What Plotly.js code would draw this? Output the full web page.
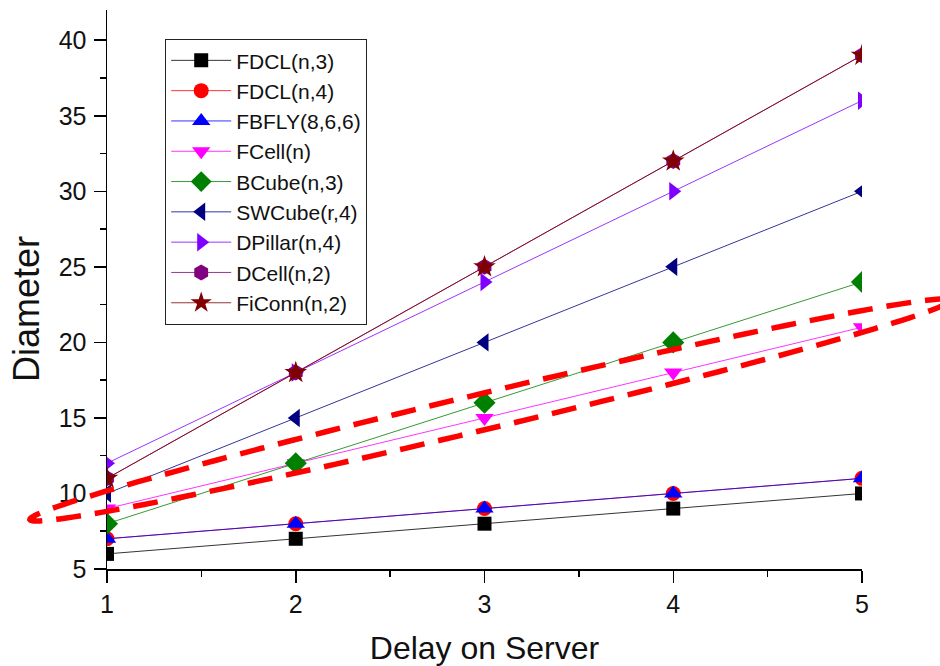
<!DOCTYPE html>
<html>
<head>
<meta charset="utf-8">
<script src="https://cdn.plot.ly/plotly-3.0.1.min.js"></script>
<style>html,body{margin:0;padding:0;background:#fff;}#chart{width:940px;height:666px;}</style>
</head>
<body>
<div id="chart"></div>
<script>
// ---- data ----
const delay = [1, 2, 3, 4, 5];
const fdclN3 = [6, 7, 8, 9, 10];
const fdclN4 = [7, 8, 9, 10, 11];
const fbfly866 = [7, 8, 9, 10, 11];
const fcellN = [9, 12, 15, 18, 21];
const bcubeN3 = [8, 12, 16, 20, 24];
const swcubeR4 = [10, 15, 20, 25, 30];
const dpillarN4 = [12, 18, 24, 30, 36];
const dcellN2 = [11, 18, 25, 32, 39];
const ficonnN2 = [11, 18, 25, 32, 39];
const seriesNames = ["FDCL(n,3)", "FDCL(n,4)", "FBFLY(8,6,6)", "FCell(n)", "BCube(n,3)", "SWCube(r,4)", "DPillar(n,4)", "DCell(n,2)", "FiConn(n,2)"];
const yTickVals = [5, 10, 15, 20, 25, 30, 35, 40];
const xTickVals = [1, 2, 3, 4, 5];
const xTitle = "Delay on Server";
const yTitle = "Diameter";

// ---- styles ----
const seriesData = [fdclN3, fdclN4, fbfly866, fcellN, bcubeN3, swcubeR4, dpillarN4, dcellN2, ficonnN2];
const colors = ["#000000", "#ff0000", "#0000ff", "#ff00ff", "#008000", "#000080", "#8000ff", "#800080", "#800000"];
const symbols = ["square", "circle", "triangle-up", "triangle-down", "diamond", "triangle-left", "triangle-right", "hexagon", "star"];
const sizes = [14, 15, 16, 16, 17, 16, 16, 16, 17];

const traces = seriesData.map((ys, i) => ({
  type: "scatter",
  mode: "lines+markers",
  name: seriesNames[i],
  x: delay,
  y: ys,
  cliponaxis: true,
  line: {color: colors[i], width: 0.8},
  marker: {color: colors[i], symbol: symbols[i], size: sizes[i], line: {width: 0}}
}));

// ---- layout geometry ----
const W = 940, H = 666;
const ml = 107, mr = 78, mt = 10, mb = 97;
const pw = W - ml - mr, ph = H - mt - mb;

// dashed highlight ellipse (annotation), built in pixel space and converted to paper coords
function ellipsePath(cx, cy, a, b, angDeg) {
  const t = angDeg * Math.PI / 180;
  const ux = Math.cos(t), uy = -Math.sin(t);
  const vx = Math.sin(t), vy = Math.cos(t);
  let d = "";
  const n = 160;
  for (let k = 0; k <= n; k++) {
    const p = 2 * Math.PI * k / n;
    const px = cx + a * Math.cos(p) * ux + b * Math.sin(p) * vx;
    const py = cy + a * Math.cos(p) * uy + b * Math.sin(p) * vy;
    const X = (px - ml) / pw;
    const Y = (H - mb - py) / ph;
    d += (k === 0 ? "M" : "L") + X.toFixed(5) + "," + Y.toFixed(5) + " ";
  }
  return d + "Z";
}

const font = "Liberation Sans, Arial, Helvetica, sans-serif";

const layout = {
  width: W, height: H,
  margin: {l: ml, r: mr, t: mt, b: mb, pad: 0},
  paper_bgcolor: "#ffffff",
  plot_bgcolor: "#ffffff",
  showlegend: true,
  font: {family: font, color: "#000000"},
  xaxis: {
    range: [1, 5],
    tickvals: xTickVals,
    ticktext: xTickVals.map(String),
    ticks: "outside", ticklen: 12, tickwidth: 1.5, tickcolor: "#000",
    minor: {dtick: 0.5, tick0: 1, ticks: "outside", ticklen: 6, tickwidth: 1.5, tickcolor: "#000"},
    showline: true, linecolor: "#000", linewidth: 1.5,
    showgrid: false, zeroline: false,
    tickfont: {family: font, size: 25, color: "#111"},
    title: {text: xTitle, font: {family: font, size: 32, color: "#111"}, standoff: 30}
  },
  yaxis: {
    range: [5, 42],
    tickvals: yTickVals,
    ticktext: yTickVals.map(String),
    ticks: "outside", ticklen: 12, tickwidth: 1.5, tickcolor: "#000",
    ticklabelstandoff: 2,
    minor: {dtick: 2.5, tick0: 5, ticks: "outside", ticklen: 6, tickwidth: 1.5, tickcolor: "#000"},
    showline: true, linecolor: "#000", linewidth: 1.5,
    showgrid: false, zeroline: false,
    tickfont: {family: font, size: 25, color: "#111"},
    title: {text: ""}
  },
  legend: {
    x: (165 - ml) / pw, y: (H - mb - 39) / ph,
    xanchor: "left", yanchor: "top",
    bgcolor: "#ffffff", bordercolor: "#222", borderwidth: 1.2,
    font: {family: font, size: 21, color: "#111"},
    itemwidth: 60,
    tracegroupgap: 0
  },
  annotations: [{
    text: yTitle, xref: "paper", yref: "paper",
    x: (26 - ml) / pw, y: (H - mb - 309) / ph,
    xanchor: "center", yanchor: "middle", textangle: -90, showarrow: false,
    font: {family: font, size: 36, color: "#111"}
  }],
  shapes: [{
    type: "path", xref: "paper", yref: "paper", layer: "above",
    path: ellipsePath(490, 410, 473, 18, 13.4),
    line: {color: "#ff0000", width: 5.5, dash: "25px,14px"},
    fillcolor: "rgba(0,0,0,0)"
  }]
};

Plotly.newPlot("chart", traces, layout, {displayModeBar: false, staticPlot: true});
</script>
</body>
</html>
